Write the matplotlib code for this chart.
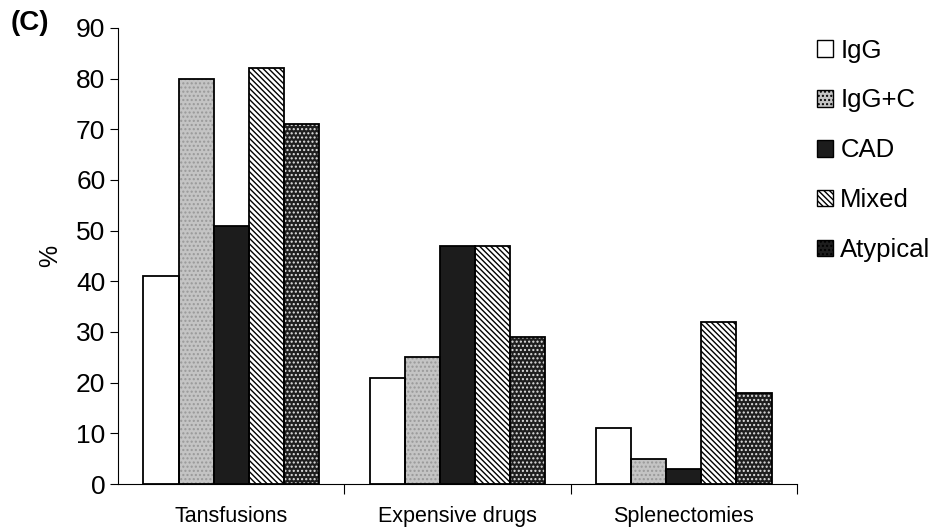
import matplotlib
matplotlib.use("Agg")
import matplotlib.pyplot as plt
import numpy as np
from matplotlib.patches import Patch

plt.rcParams['font.family'] = ['Liberation Sans', 'DejaVu Sans']
plt.rcParams['hatch.linewidth'] = 1.0

categories = ["Tansfusions", "Expensive drugs", "Splenectomies"]
groups = ["IgG", "IgG+C", "CAD", "Mixed", "Atypical"]
values = {
    "IgG":      [41, 21, 11],
    "IgG+C":    [80, 25, 5],
    "CAD":      [51, 47, 3],
    "Mixed":    [82, 47, 32],
    "Atypical": [71, 29, 18],
}
yticks = [0, 10, 20, 30, 40, 50, 60, 70, 80, 90]

# style per group: face, hatch, hatch colour
styles = {
    "IgG":      ("white", None, None),
    "IgG+C":    ("#c4c4c4", "....", "#999999"),
    "CAD":      ("#1c1c1c", None, None),
    "Mixed":    ("white", "\\\\\\\\\\\\", "black"),
    "Atypical": ("#1e1e1e", "....", "#e0e0e0"),
}

fig = plt.figure(figsize=(9.34, 5.28), dpi=100)
ax = fig.add_axes([0.1263, 0.0833, 0.727, 0.864])

x = np.arange(len(categories))
w = 0.155
n = len(groups)
for i, g in enumerate(groups):
    pos = x + (i - (n - 1) / 2) * w
    face, hatch, hc = styles[g]
    ax.bar(pos, values[g], width=w, color=face, edgecolor="none", linewidth=0, zorder=2)
    if hatch:
        ax.bar(pos, values[g], width=w, color="none", edgecolor=hc, hatch=hatch, linewidth=0, zorder=3)
    ax.bar(pos, values[g], width=w, color="none", edgecolor="black", linewidth=1.3, zorder=4)

ax.set_xlim(-0.5, 2.5)
ax.set_ylim(0, 90)
ax.set_yticks(yticks)
ax.set_yticklabels([str(v) for v in yticks], fontsize=19)
ax.tick_params(axis='y', length=6, width=0.8, pad=3)
ax.set_xticks(x)
ax.set_xticklabels(categories, fontsize=15.5)
ax.tick_params(axis='x', which='major', length=0, pad=15.5)
ax.set_xticks([0.5, 1.5, 2.5], minor=True)
ax.tick_params(axis='x', which='minor', length=7, width=0.8, direction='out')
for s in ['top', 'right']:
    ax.spines[s].set_visible(False)
for s in ['left', 'bottom']:
    ax.spines[s].set_linewidth(0.8)

ax.set_ylabel("%", fontsize=18, labelpad=10)
fig.text(0.011, 0.957, "(C)", fontsize=20, fontweight='bold', va='center', ha='left')

handles = []
for g in groups:
    face, hatch, hc = styles[g]
    handles.append(Patch(facecolor=face, edgecolor="black", hatch=hatch, linewidth=1.0, label=g))
leg = fig.legend(handles=handles, loc='upper left', bbox_to_anchor=(0.875, 0.927),
                 frameon=False, fontsize=18.5, labelspacing=1.01, handlelength=0.6,
                 handleheight=0.6, handletextpad=0.3, borderaxespad=0, borderpad=0)

fig.savefig("out.png", dpi=100)
